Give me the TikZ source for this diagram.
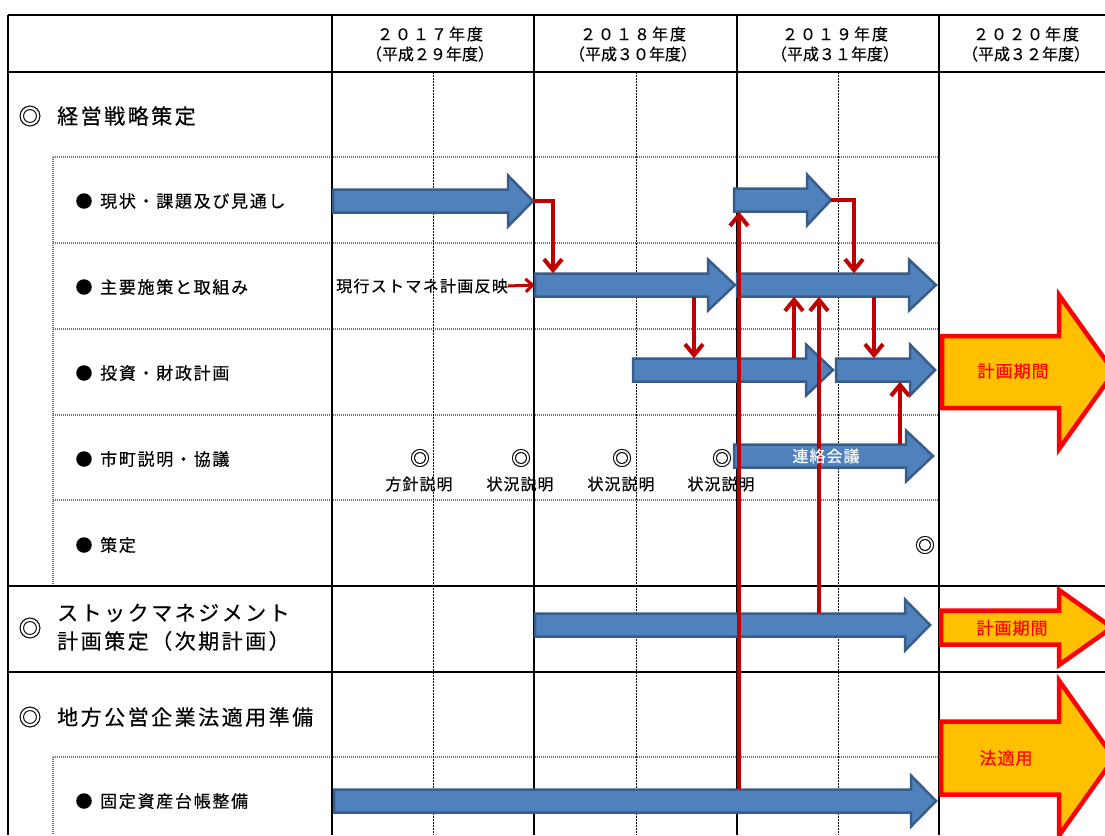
\documentclass[tikz,border=0pt]{standalone}
\usepackage{fontspec}
\setmainfont[FakeBold=0.3]{Noto Sans CJK JP}
\usetikzlibrary{arrows.meta,calc}
\definecolor{bfill}{HTML}{4F81BD}
\definecolor{bline}{HTML}{385D8A}
\definecolor{rline}{HTML}{C00000}
\definecolor{ofill}{HTML}{FFC000}
\definecolor{oline}{HTML}{FF0000}
\makeatletter
\newcommand\LS[2]{\def\ls@amt{#1}\ls@first#2\ls@end}
\def\ls@end{\ls@end}
\def\ls@first#1{#1\ls@loop}
\def\ls@loop#1{\ifx#1\ls@end\else\kern\ls@amt\relax#1\expandafter\ls@loop\fi}
\makeatother
% #1 style, #2 name, #3 x tail, #4 x tip, #5 y centre, #6 shaft half, #7 head half, #8 head length
\newcommand\blockarrow[8]{%
  \path[#1] (#3,{#5-#6}) -- ({#4-#8},{#5-#6}) -- ({#4-#8},{#5-#7}) -- (#4,#5)
    -- ({#4-#8},{#5+#7}) -- ({#4-#8},{#5+#6}) -- (#3,{#5+#6}) -- cycle;
  \pgfmathsetmacro\baw{#4-#3}\pgfmathsetmacro\bah{2*#6}\pgfmathsetmacro\bax{(#3+#4)/2}%
  \node[inner sep=0pt, minimum width=\baw pt, minimum height=\bah pt] (#2) at (\bax,#5) {};
}
\tikzset{
  solidgrid/.style={line width=2pt, black},
  halfgrid/.style={line width=1pt, black, dash pattern=on 1.5pt off 1.5pt},
  rowgrid/.style={line width=1.6pt, black!55, dash pattern=on 1pt off 1pt},
  bluearr/.style={fill=bfill, draw=bline, line width=2.5pt, line join=miter},
  orangearr/.style={fill=ofill, draw=oline, line width=4.5pt, line join=miter},
  redconn/.style={draw=rline, line width=4pt, line join=miter, -{Straight Barb[length=11pt,width=18pt]}},
  redsmall/.style={draw=rline, line width=3pt, -{Straight Barb[length=7pt,width=13pt]}},
  txt/.style={inner sep=0pt, font=\fontsize{16}{18}\selectfont},
  hdr/.style={inner sep=0pt, font=\fontsize{16}{18}\selectfont},
  sect/.style={inner sep=0pt, anchor=west, font=\fontsize{21}{24}\selectfont},
  sectmark/.style={inner sep=0pt, font=\fontsize{23}{26}\selectfont},
  dmark/.style={inner sep=0pt, font=\fontsize{20}{22}\selectfont},
  item/.style={inner sep=0pt, anchor=west, font=\fontsize{17}{20}\selectfont},
  itemmark/.style={inner sep=0pt, font=\fontsize{17}{20}\selectfont},
  otext/.style={inner sep=0pt, text=oline, font=\fontsize{17}{20}\selectfont},
}
\begin{document}
\begin{tikzpicture}[x=1pt,y=-1pt]
\useasboundingbox (0,0) rectangle (1105,835);
\fill[white] (0,0) rectangle (1105,835);
% ---------- grid ----------
\foreach \yy in {157,243,329,415,500,757} \draw[rowgrid] (53,\yy) -- (939,\yy);
\draw[rowgrid] (53,157) -- (53,586);
\draw[rowgrid] (53,757) -- (53,835);
\foreach \xx in {433,636,838} \draw[halfgrid] (\xx,72) -- (\xx,835);
\foreach \xx in {8,332,534,737,939} \draw[solidgrid] (\xx,15) -- (\xx,835);
\foreach \yy in {15,72,586,672} \draw[solidgrid] (8,\yy) -- (1105,\yy);
% ---------- header ----------
\node[hdr] (h17a) at (430,34) {\LS{2pt}{２０１７年度}};
\node[hdr] (h17b) at (430,54) {（平成２９年度）};
\node[hdr] (h18a) at (633,34) {\LS{2pt}{２０１８年度}};
\node[hdr] (h18b) at (633,54) {（平成３０年度）};
\node[hdr] (h19a) at (835,34) {\LS{2pt}{２０１９年度}};
\node[hdr] (h19b) at (835,54) {（平成３１年度）};
\node[hdr] (h20a) at (1026,34) {\LS{2pt}{２０２０年度}};
\node[hdr] (h20b) at (1026,54) {（平成３２年度）};
% ---------- left labels ----------
\node[sectmark] (s1m) at (30,116) {◎};
\node[sect] (s1) at (57,116) {\LS{2.5pt}{経営戦略策定}};
\node[itemmark] (b1m) at (84,201) {●};
\node[item] (b1) at (100,201) {\LS{1.7pt}{現状・課題及び見通し}};
\node[itemmark] (b2m) at (84,287) {●};
\node[item] (b2) at (100,287) {\LS{1.7pt}{主要施策と取組み}};
\node[itemmark] (b3m) at (84,373) {●};
\node[item] (b3) at (100,373) {\LS{1.7pt}{投資・財政計画}};
\node[itemmark] (b4m) at (84,459) {●};
\node[item] (b4) at (100,459) {\LS{1.7pt}{市町説明・協議}};
\node[itemmark] (b5m) at (84,545) {●};
\node[item] (b5) at (100,545) {\LS{1.7pt}{策定}};
\node[sectmark] (s2m) at (30,628) {◎};
\node[sect] (s2a) at (57,613) {\LS{2.5pt}{ストックマネジメント}};
\node[sect] (s2b) at (57,641) {\LS{2.5pt}{計画策定（次期計画）}};
\node[sectmark] (s3m) at (30,717) {◎};
\node[sect] (s3) at (57,717) {\LS{2.5pt}{地方公営企業法適用準備}};
\node[itemmark] (b6m) at (84,801) {●};
\node[item] (b6) at (100,801) {\LS{1.7pt}{固定資産台帳整備}};
% ---------- blue arrows ----------
\blockarrow{bluearr}{a1}{333}{533}{201}{11.5}{25.5}{25}
\blockarrow{bluearr}{a2}{734}{831}{200}{11.5}{25.5}{24}
\blockarrow{bluearr}{a3}{535}{735}{285}{11.5}{25.5}{27}
\blockarrow{bluearr}{a4}{737}{936}{285}{11.5}{25.5}{27}
\blockarrow{bluearr}{a5}{633}{833}{370}{11.5}{25.5}{27}
\blockarrow{bluearr}{a6}{836}{935}{370}{11.5}{25.5}{25}
\blockarrow{bluearr}{a7}{734}{933}{456}{11.5}{25.5}{27}
\blockarrow{bluearr}{a8}{535}{930}{625}{11.5}{25.5}{25}
\blockarrow{bluearr}{a9}{334}{936}{801}{11.5}{25.5}{25}
% ---------- orange arrows ----------
\blockarrow{orangearr}{o1}{942}{1114}{372}{36}{77}{55}
\blockarrow{orangearr}{o2}{941}{1112}{627.5}{17}{37.5}{53}
\blockarrow{orangearr}{o3}{941}{1114}{758}{36.5}{77.5}{55}
% ---------- red connectors ----------
\draw[redconn] (a1.east) -| (553,0 |- a3.north);
\draw[redconn] (a2.east) -| (854,0 |- a4.north);
\draw[redconn] (694,0 |- a3.south) -- (694,0 |- a5.north);
\draw[redconn] (794,0 |- a5.north) -- (794,0 |- a4.south);
\draw[redconn] (819,0 |- a8.north) -- (819,0 |- a4.south);
\draw[redconn] (874,0 |- a4.south) -- (874,0 |- a5.north);
\draw[redconn] (900,0 |- a7.north) -- (900,0 |- a6.south);
\draw[redconn] (739,0 |- a9.north) -- (739,0 |- a2.south);
% ---------- texts in the chart ----------
\node[txt, anchor=west] (cur) at (336,286) {\LS{1.3pt}{現行ストマネ計画反映}};
\draw[redsmall] (cur.east) -- (a3.west);
\node[dmark] (m1) at (420,458) {◎};
\node[dmark] (m2) at (521,458) {◎};
\node[dmark] (m3) at (622,458) {◎};
\node[dmark] (m4) at (722,458) {◎};
\node[txt] (l1) at (419,484) {\LS{1pt}{方針説明}};
\node[txt] (l2) at (520,484) {\LS{1pt}{状況説明}};
\node[txt] (l3) at (621,484) {\LS{1pt}{状況説明}};
\node[txt] (l4) at (721,484) {\LS{1pt}{状況説明}};
\node[dmark] (m5) at (925,545) {◎};
\node[txt, text=white] (rk) at (826,456) {\LS{1pt}{連絡会議}};
\node[otext] (ot1) at (1013,371) {\LS{1pt}{計画期間}};
\node[otext] (ot2) at (1012,628) {\LS{1pt}{計画期間}};
\node[otext] (ot3) at (1006,758) {\LS{1pt}{法適用}};
\end{tikzpicture}
\end{document}
